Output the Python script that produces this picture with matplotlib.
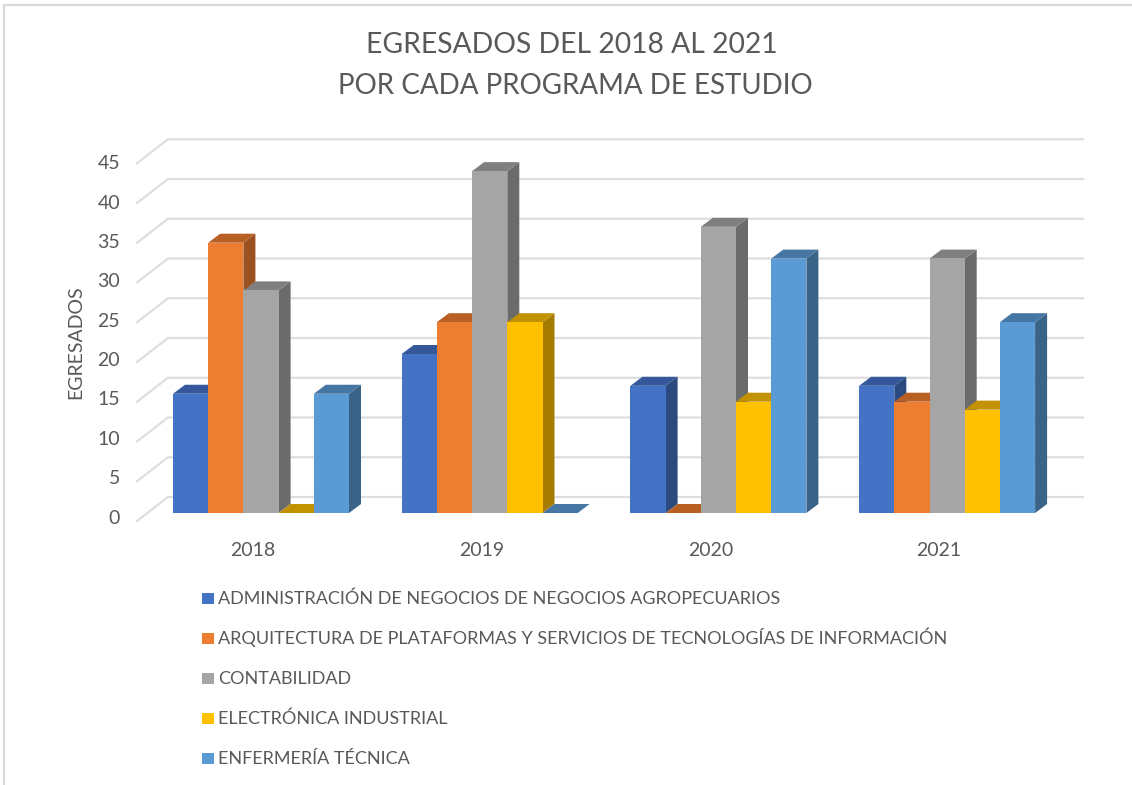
import matplotlib
matplotlib.use("Agg")
import matplotlib.pyplot as plt
from matplotlib.lines import Line2D
from matplotlib.patches import Rectangle

plt.rcParams['font.family'] = ['Lato', 'DejaVu Sans']

W, H = 1132, 785
TEXT = '#595959'

years = ['2018', '2019', '2020', '2021']
programs = ['ADMINISTRACIÓN DE NEGOCIOS DE NEGOCIOS AGROPECUARIOS',
            'ARQUITECTURA DE PLATAFORMAS Y SERVICIOS DE TECNOLOGÍAS DE INFORMACIÓN',
            'CONTABILIDAD',
            'ELECTRÓNICA INDUSTRIAL',
            'ENFERMERÍA TÉCNICA']
admin = [15, 20, 16, 16]
arqui = [34, 24, 0, 14]
conta = [28, 43, 36, 32]
electro = [0, 24, 14, 13]
enfer = [15, 0, 32, 24]
series = [admin, arqui, conta, electro, enfer]
yticks = [0, 5, 10, 15, 20, 25, 30, 35, 40, 45]

front_cols = ['#4472C4', '#ED7D31', '#A5A5A5', '#FFC000', '#5B9BD5']
top_cols = ['#34589A', '#B85F24', '#7F7F7F', '#C29200', '#4676A3']
side_cols = ['#2B4A80', '#9C5120', '#6B6B6B', '#A67C00', '#3A6388']

# scales
px_x = 228.7     # px per category
px_y = 7.95      # px per value unit
x0_px, y0_px = 261.0, 513

def dx(p): return p / px_x
def dy(p): return p / px_y

fig = plt.figure(figsize=(W / 100, H / 100), dpi=100, facecolor='white')
ax = fig.add_axes([0, 0, 1, 1])
ax.set_xlim(-x0_px / px_x, (W - x0_px) / px_x)
ax.set_ylim(-(H - y0_px) / px_y, y0_px / px_y)
ax.axis('off')

# back wall grid, with the slanted part on the left
grid_l, grid_r = dx(168 - x0_px), dx(1083 - x0_px)
for v in yticks:
    ax.plot([grid_l - dx(31), grid_l, grid_r],
            [v - dy(8), v + dy(16), v + dy(16)],
            color='#DEDEDE', lw=1.6, solid_joinstyle='miter', zorder=1)
    # the labels sit on a slightly tighter step than the grid
    ax.text(dx(120 - x0_px), v * 0.99 - dy(5), str(v), ha='right', va='center',
            fontsize=14, color=TEXT)

# bars
bw = 35.2 / px_x
depth_x, depth_y = dx(12), dy(9)
z = 2
for i in range(len(years)):
    for j, vals in enumerate(series):
        v = vals[i]
        l = i + (j - 2.5) * bw
        r = l + bw
        ax.fill([r, r + depth_x, r + depth_x, r],
                [0, depth_y, v + depth_y, v], color=side_cols[j], lw=0, zorder=z)
        ax.fill([l, r, r + depth_x, l + depth_x],
                [v, v, v + depth_y, v + depth_y], color=top_cols[j], lw=0, zorder=z)
        if v > 0:
            ax.bar(l, v, width=bw, align='edge', color=front_cols[j], lw=0, zorder=z + 0.5)
        z += 1
    ax.text(i + dx(-8), dy(-37), years[i], ha='center', va='center', fontsize=14,
            color=TEXT)

# title and axis label
ax.text(dx(571.5 - x0_px), dy(y0_px - 45), 'EGRESADOS DEL 2018 AL 2021', ha='center',
        va='center', fontsize=20.3, color=TEXT)
ax.text(dx(575 - x0_px), dy(y0_px - 86), 'POR CADA PROGRAMA DE ESTUDIO', ha='center',
        va='center', fontsize=20, color=TEXT)
ax.text(dx(76 - x0_px), dy(y0_px - 342), 'EGRESADOS', rotation=90, ha='center', va='center',
        fontsize=14, color=TEXT)

# legend rows, evenly spaced
leg_h = 5.5 / H
for k, name in enumerate(programs):
    row = 1 - (598.3 + 40 * k) / H
    fig.add_artist(Rectangle((202 / W, row - leg_h), 11.5 / W, 2 * leg_h,
                             transform=fig.transFigure, facecolor=front_cols[k], lw=0))
    fig.text(218.5 / W, row - 6 / H, name, ha='left', va='baseline', fontsize=12.95, color=TEXT)

# chart frame
for xs, ys in [((4, 4), (5, H)), ((4, W), (5, 5))]:
    fig.add_artist(Line2D([x / W for x in xs], [1 - y / H for y in ys],
                          color='#D9D9D9', lw=1.6))

fig.savefig('out.png', dpi=100)
